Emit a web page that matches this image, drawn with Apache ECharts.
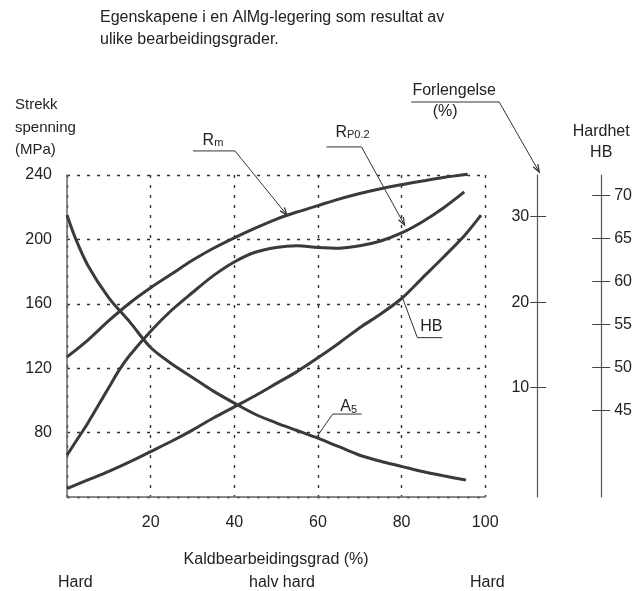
<!DOCTYPE html>
<html>
<head>
<meta charset="utf-8">
<script src="https://cdn.jsdelivr.net/npm/echarts@6/dist/echarts.min.js"></script>
<style>html,body{margin:0;padding:0;background:#fff}#c{width:635px;height:591px}</style>
</head>
<body>
<div id="c"></div>
<script>
// ---- data ----
const titleLines = ['Egenskapene i en AlMg-legering som resultat av', 'ulike bearbeidingsgrader.'];
const yNameLines = ['Strekk', 'spenning', '(MPa)'];
const xName = 'Kaldbearbeidingsgrad (%)';
const stateLabels = ['Hard', 'halv hard', 'Hard'];
const stateX = [2, 51.4, 100.5];
const fTicks = [10, 20, 30];            // Forlengelse (%)
const hTicks = [45, 50, 55, 60, 65, 70]; // Hardhet HB

// Rm (MPa)
const rmX = [0,5,10,15,20,25,30,35,40,45,50,55,60,65,70,75,80,85,90,95.8];
const rmY = [127,137.5,149.5,160.5,170,178.5,187,194.5,201,207,212.5,217,221,225,228.5,231.5,234,236.3,238.5,240.5];
// Rp0.2 (MPa)
const rpX = [0,2.5,5,7.5,10,12.5,15,20,25,30,35,40,45,50,55,60,65,70,75,80,85,90,95];
const rpY = [66,76,86,97,108,119,128,143,156,167,177.5,186,192,195,196,195,194.5,196,199,204,211,219.5,229.5];
// A5 (Forlengelse %)
const a5X = [0,2,5,10,15,20,25,30,35,40,45,50,55,60,65,70,75,80,85,90,95.4];
const a5Y = [30.2,27.5,24.3,20.5,17.7,14.7,12.8,11.2,9.6,8.2,6.9,5.9,5.0,4.1,3.1,2.1,1.4,0.8,0.2,-0.3,-0.8];
// HB (Hardhet)
const hbX = [0,5,10,15,20,25,30,35,40,45,50,55,60,65,70,75,80,85,90,95,99];
const hbY = [35.9,36.9,37.9,39.0,40.2,41.4,42.7,44.1,45.4,46.7,48.1,49.5,51.1,52.8,54.6,56.2,58.0,60.4,62.8,65.3,67.7];

const zip = (xs, ys) => xs.map((x, i) => [x, ys[i]]);

// ---- style ----
const FONT = "'Liberation Sans', Arial, Helvetica, sans-serif";
const TXT = '#222';
const CURVE = '#3a3a3a';
const dash = { type: [3, 7], color: '#333', width: 1.4 };

const chart = echarts.init(document.getElementById('c'));

const curve = (name, xs, ys, yi) => ({
  type: 'line', name, xAxisIndex: 0, yAxisIndex: yi,
  data: zip(xs, ys), showSymbol: false, symbol: 'none',
  smooth: 0.3, clip: false, silent: true,
  lineStyle: { color: CURVE, width: 3 }
});

chart.setOption({
  animation: false,
  backgroundColor: '#fff',
  textStyle: { fontFamily: FONT },
  title: [
    { text: titleLines.join('\n'), left: 100, top: 7, padding: 0,
      textStyle: { fontSize: 16, fontWeight: 'normal', color: TXT, lineHeight: 22, fontFamily: FONT } },
    { text: yNameLines.join('\n'), left: 15, top: 94, padding: 0,
      textStyle: { fontSize: 15, fontWeight: 'normal', color: TXT, lineHeight: 22.5, fontFamily: FONT } }
  ],
  grid: { left: 67, right: 149, top: 175, bottom: 94 },
  xAxis: [{
    type: 'value', min: 0, max: 100, interval: 20,
    name: xName, nameLocation: 'middle', nameGap: 55,
    nameTextStyle: { fontSize: 16, color: TXT, fontFamily: FONT },
    axisLine: { show: true, onZero: false, lineStyle: { color: '#666', width: 1.5 } },
    axisTick: { show: false },
    axisLabel: { fontSize: 16, color: TXT, margin: 18, fontFamily: FONT,
      formatter: v => v === 0 ? '' : String(v) },
    splitLine: { show: true, lineStyle: dash }
  }],
  yAxis: [
    { // MPa
      type: 'value', min: 40, max: 240, interval: 40, position: 'left',
      axisLine: { show: true, onZero: false, lineStyle: { color: '#666', width: 1.5 } },
      axisTick: { show: false },
      axisLabel: { fontSize: 16, color: TXT, margin: 15, fontFamily: FONT,
        formatter: v => v === 40 ? '' : String(v) },
      splitLine: { show: true, lineStyle: dash }
    },
    { // Forlengelse (labels + inner ticks)
      type: 'value', position: 'right', offset: 52, min: -2.78, max: 34.88,
      axisLine: { show: true, onZero: false, lineStyle: { color: '#555', width: 1.2 } },
      axisTick: { show: true, inside: true, length: 7, customValues: fTicks, lineStyle: { color: '#444', width: 1 } },
      axisLabel: { show: true, inside: true, margin: 8, customValues: fTicks, fontSize: 16, color: TXT,
        fontFamily: FONT, verticalAlign: 'middle', padding: [12, 0, 0, 0] },
      splitLine: { show: false }
    },
    { // Forlengelse outer ticks
      type: 'value', position: 'right', offset: 52, min: -2.78, max: 34.88,
      axisLine: { show: false, onZero: false },
      axisTick: { show: true, length: 9, customValues: fTicks, lineStyle: { color: '#444', width: 1 } },
      axisLabel: { show: false },
      splitLine: { show: false }
    },
    { // Hardhet HB
      type: 'value', position: 'right', offset: 116, min: 34.92, max: 72.36,
      name: 'Hardhet\nHB', nameLocation: 'end', nameGap: 12,
      nameTextStyle: { fontSize: 16, color: TXT, lineHeight: 21, align: 'center', fontFamily: FONT },
      axisLine: { show: true, onZero: false, lineStyle: { color: '#555', width: 1.2 } },
      axisTick: { show: true, length: 9, customValues: hTicks, lineStyle: { color: '#444', width: 1 } },
      axisLabel: { show: true, margin: 13, customValues: hTicks, fontSize: 16, color: TXT, fontFamily: FONT },
      splitLine: { show: false }
    },
    { // Hardhet inner ticks
      type: 'value', position: 'right', offset: 116, min: 34.92, max: 72.36,
      axisLine: { show: false, onZero: false },
      axisTick: { show: true, inside: true, length: 9, customValues: hTicks, lineStyle: { color: '#444', width: 1 } },
      axisLabel: { show: false },
      splitLine: { show: false }
    }
  ],
  series: [
    curve('Rm', rmX, rmY, 0),
    curve('Rp0.2', rpX, rpY, 0),
    curve('A5', a5X, a5Y, 1),
    curve('HB', hbX, hbY, 3)
  ]
});

// ---- annotations (anchored to data coordinates) ----
const P = (x, y, yi) => chart.convertToPixel({ xAxisIndex: 0, yAxisIndex: yi || 0 }, [x, y]);
const add = (a, d) => [a[0] + d[0], a[1] + d[1]];
const LC = '#333';
const g = [];
const line = (pts) => g.push({ type: 'polyline', shape: { points: pts }, style: { stroke: LC, lineWidth: 1, fill: null }, silent: true });
const arrow = (tip, from) => {
  const dx = tip[0] - from[0], dy = tip[1] - from[1], L = Math.hypot(dx, dy);
  const ux = dx / L, uy = dy / L, len = 8, a = 0.35;
  const r = (s) => [tip[0] - len * (ux * Math.cos(s) - uy * Math.sin(s)), tip[1] - len * (uy * Math.cos(s) + ux * Math.sin(s))];
  g.push({ type: 'polyline', shape: { points: [r(a), tip, r(-a)] }, style: { stroke: LC, lineWidth: 1.3, fill: null }, silent: true });
};
const text = (pos, t, rich, size) => g.push({
  type: 'text', x: pos[0], y: pos[1], silent: true,
  style: { text: t, rich: rich, fontSize: size || 16, fontFamily: FONT, fill: TXT, align: 'center', verticalAlign: 'middle' }
});
const subRich = { a: { fontSize: 16, fontFamily: FONT, fill: TXT, verticalAlign: 'bottom', lineHeight: 18 },
                  b: { fontSize: 11, fontFamily: FONT, fill: TXT, verticalAlign: 'bottom', lineHeight: 16 } };

// Rm
{
  const tip = P(52.6, 215.2, 0);
  const elbow = add(tip, [-52, -64]);
  line([add(elbow, [-42, 0]), elbow, tip]);
  arrow(tip, elbow);
  text(add(tip, [-74, -75]), '{a|R}{b|m}', subRich);
}
// Rp0.2
{
  const tip = P(80.7, 209, 0);
  const elbow = add(tip, [-43, -78]);
  line([add(elbow, [-35, 0]), elbow, tip]);
  arrow(tip, elbow);
  text(add(tip, [-52, -93]), '{a|R}{b|P0.2}', subRich);
}
// Forlengelse
{
  const corner = P(100, 240, 0);
  const tip = [corner[0] + 54, corner[1] - 3];
  const elbow = add(tip, [-40, -70]);
  line([add(elbow, [-88, 0]), elbow, tip]);
  arrow(tip, elbow);
  text(add(elbow, [-45, -11]), 'Forlengelse');
  text(add(elbow, [-54, 10]), '(%)');
}
// HB
{
  const tip = P(80.2, 58.1, 3);
  const elbow = add(tip, [15, 40]);
  line([tip, elbow, add(elbow, [25, 0])]);
  text(add(elbow, [14, -11]), 'HB');
}
// A5
{
  const tip = P(59.7, 4.23, 1);
  const elbow = add(tip, [16, -23]);
  line([tip, elbow, add(elbow, [29, 0])]);
  text(add(elbow, [16, -8]), '{a|A}{b|5}', subRich);
}
// state labels under x axis
{
  const base = P(0, 40, 0);
  stateLabels.forEach((s, i) => text([P(stateX[i], 40, 0)[0], base[1] + 86], s));
}

chart.setOption({ graphic: g });
</script>
</body>
</html>
